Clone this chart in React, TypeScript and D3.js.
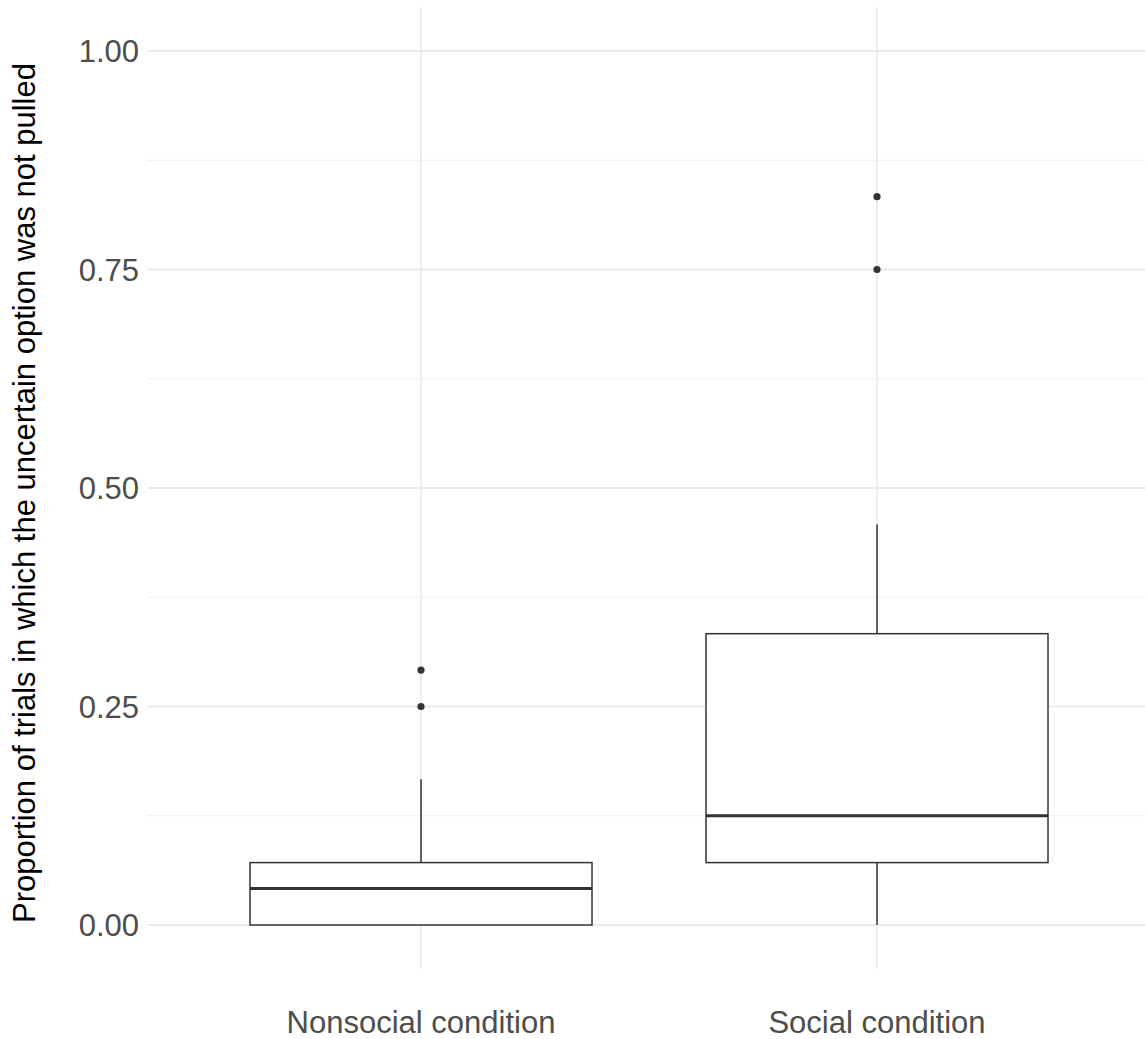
import * as d3 from "d3";
import { useRef, useEffect } from "react";

// box summaries per condition (proportions)
const categories = ["Nonsocial condition", "Social condition"];
const lowerWhisker = [0, 0];
const q1 = [0, 0.0714];
const medians = [0.0417, 0.125];
const q3 = [0.0714, 0.3333];
const upperWhisker = [0.1667, 0.4583];
const outliers = [[0.25, 0.2917], [0.75, 0.8333]];
const yTicks = [0, 0.25, 0.5, 0.75, 1];
const yMinorTicks = [0.125, 0.375, 0.625, 0.875];

const width = 1145;
const height = 1039;
const font = "'Liberation Sans', Arial, Helvetica, sans-serif";
const fontSize = 31;

const App = () => {
    const ref = useRef<SVGSVGElement>(null);

    useEffect(() => {
        const svg = d3.select(ref.current);
        svg.selectAll("*").remove();

        const panelTop = 7.3;
        const panelBottom = 968.7;
        const panelLeft = 147.4;
        const panelRight = 1150.6;

        const x = d3.scalePoint<string>().domain(categories).range([panelLeft, panelRight]).padding(0.6);
        const y = d3.scaleLinear().domain([-0.05, 1.05]).range([panelBottom, panelTop]);
        const boxW = x.step() * 0.75;

        const grid = svg.append("g");
        grid.selectAll("line.minor")
            .data(yMinorTicks)
            .join("line")
            .attr("x1", panelLeft).attr("x2", panelRight)
            .attr("y1", d => y(d)).attr("y2", d => y(d))
            .attr("stroke", "#EBEBEB").attr("stroke-width", 0.9);
        grid.selectAll("line.major")
            .data(yTicks)
            .join("line")
            .attr("x1", panelLeft).attr("x2", panelRight)
            .attr("y1", d => y(d)).attr("y2", d => y(d))
            .attr("stroke", "#EBEBEB").attr("stroke-width", 1.8);
        grid.append("g").selectAll("line")
            .data(categories)
            .join("line")
            .attr("x1", d => x(d)!).attr("x2", d => x(d)!)
            .attr("y1", panelTop).attr("y2", panelBottom)
            .attr("stroke", "#EBEBEB").attr("stroke-width", 1.8);

        // y tick labels
        svg.append("g").selectAll("text")
            .data(yTicks)
            .join("text")
            .attr("x", 139)
            .attr("y", d => y(d))
            .attr("dy", "0.36em")
            .attr("text-anchor", "end")
            .attr("font-family", font)
            .attr("font-size", fontSize)
            .attr("fill", "#4D4D4D")
            .text(d => d3.format(".2f")(d));

        // x tick labels
        svg.append("g").selectAll("text")
            .data(categories)
            .join("text")
            .attr("x", d => x(d)!)
            .attr("y", 1033)
            .attr("text-anchor", "middle")
            .attr("font-family", font)
            .attr("font-size", fontSize)
            .attr("fill", "#4D4D4D")
            .text(d => d);

        // y axis title
        svg.append("text")
            .attr("transform", `translate(35,493) rotate(-90)`)
            .attr("text-anchor", "middle")
            .attr("font-family", font)
            .attr("font-size", fontSize)
            .attr("fill", "#000")
            .text("Proportion of trials in which the uncertain option was not pulled");

        const boxes = svg.append("g").selectAll("g")
            .data(categories.map((c, i) => ({ c, i })))
            .join("g");

        // whiskers
        boxes.append("line")
            .attr("x1", d => x(d.c)!).attr("x2", d => x(d.c)!)
            .attr("y1", d => y(q3[d.i])).attr("y2", d => y(upperWhisker[d.i]))
            .attr("stroke", "#333333").attr("stroke-width", 1.5);
        boxes.append("line")
            .attr("x1", d => x(d.c)!).attr("x2", d => x(d.c)!)
            .attr("y1", d => y(q1[d.i])).attr("y2", d => y(lowerWhisker[d.i]))
            .attr("stroke", "#333333").attr("stroke-width", 1.5);

        boxes.append("rect")
            .attr("x", d => x(d.c)! - boxW / 2)
            .attr("width", boxW)
            .attr("y", d => y(q3[d.i]))
            .attr("height", d => y(q1[d.i]) - y(q3[d.i]))
            .attr("fill", "#fff")
            .attr("stroke", "#333333").attr("stroke-width", 1.5);

        boxes.append("line")
            .attr("x1", d => x(d.c)! - boxW / 2).attr("x2", d => x(d.c)! + boxW / 2)
            .attr("y1", d => y(medians[d.i])).attr("y2", d => y(medians[d.i]))
            .attr("stroke", "#333333").attr("stroke-width", 3);

        boxes.each(function (d) {
            d3.select(this).selectAll("circle")
                .data(outliers[d.i])
                .join("circle")
                .attr("cx", x(d.c)!)
                .attr("cy", v => y(v))
                .attr("r", 3.6)
                .attr("fill", "#333333");
        });
    }, []);

    return (
        <div style={{ position: "absolute", left: 0, top: 0 }}>
            <svg ref={ref} width={width} height={height} style={{ display: "block", background: "#fff" }} />
        </div>
    );
};

export default App;
